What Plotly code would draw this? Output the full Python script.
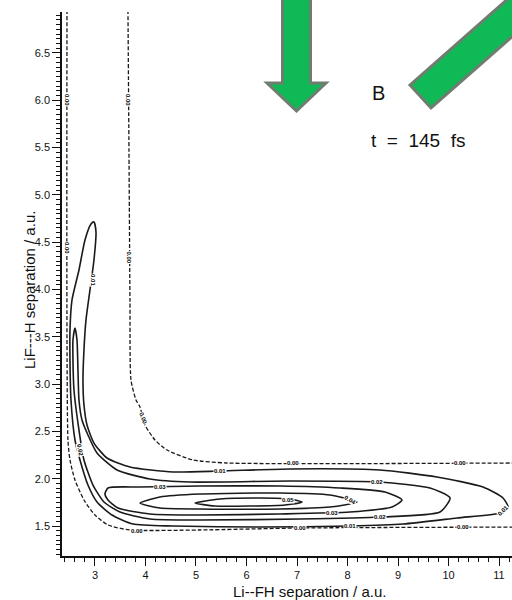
import plotly.graph_objects as go

# ---- axis ticks ----
x_tick_vals = [3, 4, 5, 6, 7, 8, 9, 10, 11]
y_tick_vals = [1.5, 2.0, 2.5, 3.0, 3.5, 4.0, 4.5, 5.0, 5.5, 6.0, 6.5]

# ---- contour lines (a.u.) ----
# dashed 0.00 contour, upper / right branch
c000a_x = [3.653, 3.673, 3.693, 3.713, 3.812, 3.891, 3.99, 4.188, 4.426, 4.941, 5.614, 11.26]
c000a_y = [6.955, 5.475, 3.889, 3.043, 2.832, 2.758, 2.568, 2.409, 2.303, 2.198, 2.166, 2.166]
# dashed 0.00 contour, left / lower branch
c000b_x = [2.446, 2.465, 2.505, 2.604, 2.782, 3.0, 3.257, 3.693, 5.079, 7.059, 11.26]
c000b_y = [6.955, 2.409, 2.198, 1.986, 1.775, 1.616, 1.511, 1.458, 1.458, 1.479, 1.489]
# solid 0.01 contour
c001_x = [2.98, 3.02, 2.98, 2.901, 2.822, 2.782, 2.762, 2.782, 2.842, 2.98, 3.238, 3.693, 4.545,
          5.475, 6.861, 8.644, 9.772, 10.683, 11.079, 11.178, 11.02, 10.168, 9.099, 8.05, 6.267,
          4.545, 3.752, 3.337, 3.04, 2.861, 2.703, 2.604, 2.525, 2.505, 2.505, 2.545, 2.683,
          2.802, 2.921, 2.98]
c001_y = [4.714, 4.608, 4.312, 3.995, 3.678, 3.360, 3.043, 2.779, 2.568, 2.377, 2.219, 2.124, 2.071,
          2.081, 2.103, 2.092, 2.018, 1.912, 1.796, 1.701, 1.637, 1.585, 1.521, 1.50, 1.489,
          1.50, 1.521, 1.616, 1.754, 1.933, 2.198, 2.409, 2.832, 3.255, 3.572, 3.889, 4.206,
          4.523, 4.692, 4.714]
# solid 0.02 contour
c002_x = [2.604, 2.644, 2.663, 2.683, 2.743, 2.861, 3.04, 3.436, 4.089, 4.881, 6.861, 8.644, 9.634,
          10.03, 9.832, 8.644, 7.059, 5.079, 4.089, 3.495, 3.178, 2.96, 2.782, 2.683, 2.584,
          2.564, 2.564, 2.604]
c002_y = [3.593, 3.466, 3.149, 2.832, 2.62, 2.462, 2.272, 2.092, 1.997, 1.965, 1.976, 1.965, 1.902,
          1.796, 1.648, 1.595, 1.574, 1.563, 1.574, 1.648, 1.754, 1.933, 2.198, 2.515, 2.938,
          3.255, 3.466, 3.593]
# solid 0.03 contour
c003_x = [3.198, 3.257, 3.891, 5.079, 6.663, 7.851, 8.743, 9.079, 8.881, 8.05, 6.663, 5.079, 4.089,
          3.455, 3.257, 3.198]
c003_y = [1.838, 1.902, 1.912, 1.923, 1.923, 1.902, 1.859, 1.775, 1.701, 1.648, 1.627, 1.616, 1.627,
          1.69, 1.775, 1.838]
# solid 0.04 contour
c004_x = [3.891, 4.287, 5.079, 6.663, 7.653, 8.188, 7.653, 6.663, 5.079, 4.287, 3.891]
c004_y = [1.743, 1.807, 1.838, 1.849, 1.828, 1.754, 1.701, 1.68, 1.68, 1.69, 1.743]
# solid 0.05 contour
c005_x = [4.98, 5.475, 6.267, 6.861, 7.099, 6.762, 6.069, 5.376, 4.98]
c005_y = [1.743, 1.785, 1.796, 1.785, 1.754, 1.722, 1.711, 1.711, 1.743]

# ---- contour labels ----
lab_text = ["0.00", "0.00", "0.00", "0.00", "0.00", "0.00", "0.00", "0.00", "0.00", "0.00",
            "0.01", "0.01", "0.01", "0.01",
            "0.02", "0.02", "0.02",
            "0.03", "0.03",
            "0.04", "0.05"]
lab_x = [3.653, 3.683, 3.95, 6.921, 10.228, 2.446, 2.446, 3.832, 7.059, 10.287,
         5.475, 11.07, 8.05, 2.96,
         8.584, 8.644, 2.703,
         4.287, 7.693,
         8.05, 6.822]
lab_y = [6.003, 4.333, 2.64, 2.166, 2.166, 6.003, 4.439, 1.447, 1.479, 1.489,
         2.081, 1.66, 1.50, 4.1,
         1.965, 1.595, 2.303,
         1.912, 1.637,
         1.775, 1.775]
lab_angle = [90, 90, 70, 0, 0, 90, 90, 0, 0, 0,
             0, -45, 0, 90,
             0, 0, 80,
             0, 0,
             30, 0]

LINE = "#1a1a1a"
FONT = "Liberation Sans, Arial, sans-serif"

fig = go.Figure()

def add_line(xs, ys, dashed):
    fig.add_trace(go.Scatter(
        x=xs, y=ys, mode="lines", hoverinfo="skip", showlegend=False,
        line=dict(color=LINE, width=1.6 if not dashed else 1.3,
                  dash="4px,2px" if dashed else "solid",
                  shape="spline", smoothing=0.6)))

add_line(c000a_x, c000a_y, True)
add_line(c000b_x, c000b_y, True)
add_line(c001_x, c001_y, False)
add_line(c002_x, c002_y, False)
add_line(c003_x, c003_y, False)
add_line(c004_x, c004_y, False)
add_line(c005_x, c005_y, False)

for t, xv, yv, a in zip(lab_text, lab_x, lab_y, lab_angle):
    fig.add_annotation(x=xv, y=yv, text="<b>" + t + "</b>", showarrow=False, textangle=a,
                       xanchor="center", yanchor="middle",
                       font=dict(size=6, color="#000", family=FONT),
                       bgcolor="white", borderpad=0)

# ---- decorations positioned in page pixels ----
L, R, T, B = 62, 512, 12, 556
def px(xp):
    return (xp - L) / (R - L)
def py(yp):
    return (B - yp) / (B - T)

def path(points):
    return "M " + " L ".join(f"{px(a):.5f},{py(b):.5f}" for a, b in points) + " Z"

GREEN = "#0fba56"
GREY = "#6f7d70"
down_arrow = [(282.5, -5), (310.5, -5), (310.5, 83), (326, 83), (296.5, 111), (267, 83), (282.5, 83)]
diag_bar = [(410, 85), (431, 108), (581, -24), (560, -47)]
for pts in (down_arrow, diag_bar):
    fig.add_shape(type="path", path=path(pts), xref="paper", yref="paper",
                  fillcolor=GREEN, line=dict(color=GREY, width=3), layer="above")

fig.add_annotation(x=px(370), y=py(93), text="B", showarrow=False, xanchor="left", yanchor="middle",
                   xref="paper", yref="paper", font=dict(size=20, color="#111", family=FONT))
fig.add_annotation(x=px(369), y=py(140), text="t  =  145  fs", showarrow=False, xanchor="left",
                   yanchor="middle", xref="paper", yref="paper",
                   font=dict(size=19, color="#111", family=FONT))

# axis titles
fig.add_annotation(x=px(309), y=py(591), text="Li--FH separation / a.u.", showarrow=False,
                   xanchor="center", yanchor="middle",
                   xref="paper", yref="paper", font=dict(size=15, color="#111", family=FONT))
fig.add_annotation(x=px(29), y=py(290), text="LiF---H separation / a.u.", showarrow=False,
                   textangle=-90, xanchor="center", yanchor="middle", xref="paper", yref="paper",
                   font=dict(size=15, color="#111", family=FONT))

axis_common = dict(showgrid=False, zeroline=False, showline=True, linecolor="#111", linewidth=1.6,
                   ticks="outside", ticklen=8, tickwidth=1.3, tickcolor="#111",
                   tickfont=dict(size=11, color="#111", family=FONT))
fig.update_xaxes(range=[2.347, 11.257], tickvals=x_tick_vals, ticktext=[str(v) for v in x_tick_vals],
                 minor=dict(dtick=0.2, tick0=3, ticks="outside", ticklen=4, tickcolor="#111", tickwidth=1.1),
                 **axis_common)
fig.update_yaxes(range=[1.183, 6.933], tickvals=y_tick_vals, ticktext=[f"{v:.1f}" for v in y_tick_vals],
                 minor=dict(dtick=0.05, tick0=1.5, ticks="outside", ticklen=4, tickcolor="#111", tickwidth=1.1),
                 **axis_common)

fig.update_layout(width=512, height=600, margin=dict(l=L, r=512 - R, t=T, b=600 - B),
                  paper_bgcolor="white", plot_bgcolor="white", showlegend=False)

fig.write_html("out.html")
